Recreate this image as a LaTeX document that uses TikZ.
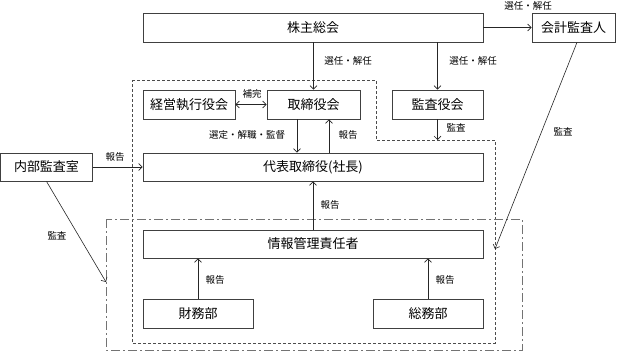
\documentclass[tikz,border=0pt]{standalone}
\usepackage{fontspec}
\newfontfamily\jp{Noto Sans CJK JP}
\usetikzlibrary{arrows.meta}
\begin{document}
\begin{tikzpicture}[x=1pt,y=-1pt,
  box/.style={draw=black!75, line width=0.8pt, fill=white, inner sep=0pt, font=\jp\fontsize{13}{13}\selectfont},
  lbl/.style={font=\jp\fontsize{9.5}{10}\selectfont, inner sep=0pt},
  arr/.style={draw=black!85, line width=0.7pt, -{Straight Barb[length=3.5pt,width=7pt]}},
  darr/.style={draw=black!85, line width=0.7pt, {Straight Barb[length=3.5pt,width=7pt]}-{Straight Barb[length=3.5pt,width=7pt]}},
  region/.style={draw=black!70, line width=0.7pt, dash pattern=on 3pt off 2pt},
  region2/.style={draw=black!55, line width=0.8pt, dash pattern=on 9pt off 3pt on 2pt off 3pt}]
\useasboundingbox (0,0) rectangle (625,351);
% regions
\draw[region] (132,80) -- (376,80) -- (376,140) -- (495,140) -- (495,343) -- (132,343) -- cycle;
\draw[region2] (106,219) rectangle (522,350);
\coordinate (kansaEnd) at (437,140);
\coordinate (kaikeiEnd) at (495,249);
\coordinate (naibuEnd) at (106,282);
% boxes
\node[box, minimum width=340pt, minimum height=29pt] (kabu) at (313,27.5) {株主総会};
\node[box, minimum width=83pt, minimum height=29pt] (kaikei) at (573.5,27.5) {会計監査人};
\node[box, minimum width=92pt, minimum height=29pt] (keiei) at (189,104.5) {経営執行役会};
\node[box, minimum width=93pt, minimum height=29pt] (tori) at (313.5,104.5) {取締役会};
\node[box, minimum width=91pt, minimum height=29pt] (kansayaku) at (437.5,104.5) {監査役会};
\node[box, minimum width=340pt, minimum height=28pt] (daihyo) at (313,167) {代表取締役(社長)};
\node[box, minimum width=91.5pt, minimum height=28pt] (naibu) at (46.5,167) {内部監査室};
\node[box, minimum width=340pt, minimum height=28pt] (joho) at (313,244) {情報管理責任者};
\node[box, minimum width=110pt, minimum height=29pt] (zaimu) at (198,313.5) {財務部};
\node[box, minimum width=110pt, minimum height=29pt] (soumu) at (428,313.5) {総務部};
% connectors
\draw[arr] (kabu.south -| tori.north) -- (tori.north);
\draw[arr] (kabu.south -| kansayaku.north) -- (kansayaku.north);
\draw[arr] (kabu.east) -- (kaikei.west);
\draw[darr] (keiei.east) -- (tori.west);
\draw[arr] ([xshift=-16.5pt]tori.south) -- ([xshift=-16.5pt]tori.south |- daihyo.north);
\draw[arr] ([xshift=15.5pt]tori.south |- daihyo.north) -- ([xshift=15.5pt]tori.south);
\draw[arr] (kansayaku.south) -- (kansayaku.south |- kansaEnd);
\draw[arr, line width=0.6pt] ([xshift=3.5pt]kaikei.south) -- (kaikeiEnd);
\draw[arr] (naibu.east) -- (daihyo.west);
\draw[arr, line width=0.6pt] (naibu.south) -- (naibuEnd);
\draw[arr] (joho.north) -- (daihyo.south);
\draw[arr] (zaimu.north) -- (zaimu.north |- joho.south);
\draw[arr] (soumu.north) -- (soumu.north |- joho.south);
% labels
\node[lbl] (l1) at (348,61) {選任・解任};
\node[lbl] (l2) at (473,61) {選任・解任};
\node[lbl] (l3) at (528,6) {選任・解任};
\node[lbl] (l4) at (252,94) {補完};
\node[lbl] (l5) at (247,135) {選定・解職・監督};
\node[lbl] (l6) at (348,135) {報告};
\node[lbl] (l7) at (456,128) {監査};
\node[lbl] (l8) at (563,132) {監査};
\node[lbl] (l9) at (115,157) {報告};
\node[lbl] (l10) at (57,236) {監査};
\node[lbl] (l11) at (330,205) {報告};
\node[lbl] (l12) at (215,280) {報告};
\node[lbl] (l13) at (445,280) {報告};
\end{tikzpicture}
\end{document}
